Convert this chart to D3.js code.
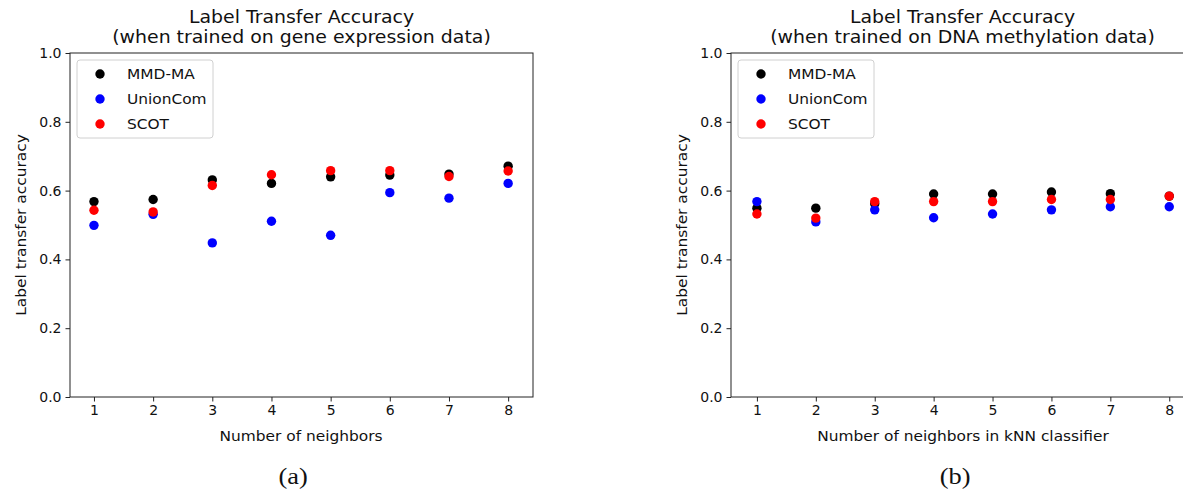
<!DOCTYPE html>
<html>
<head>
<meta charset="utf-8">
<script src="https://cdn.jsdelivr.net/npm/d3@7"></script>
<style>
  body { margin: 0; background: #fff; }
  svg { display: block; }
  text { font-family: "DejaVu Sans", sans-serif; fill: #111; }
</style>
</head>
<body>
<svg id="chart" width="1183" height="491"></svg>
<script>
// k values of the kNN classifier
const neighbors = [1, 2, 3, 4, 5, 6, 7, 8];
const yTicks = [0.0, 0.2, 0.4, 0.6, 0.8, 1.0];
const methods = ["MMD-MA", "UnionCom", "SCOT"];
const methodColors = ["#000000", "#0000ff", "#ff0000"];

// Panel (a): trained on gene expression data
const geneMMDMA    = [0.568, 0.574, 0.631, 0.621, 0.640, 0.645, 0.648, 0.671];
const geneUnionCom = [0.499, 0.531, 0.448, 0.511, 0.470, 0.594, 0.578, 0.621];
const geneSCOT     = [0.543, 0.538, 0.615, 0.646, 0.658, 0.658, 0.641, 0.657];

// Panel (b): trained on DNA methylation data
const methMMDMA    = [0.549, 0.549, 0.562, 0.590, 0.590, 0.596, 0.591, 0.584];
const methUnionCom = [0.568, 0.509, 0.544, 0.521, 0.532, 0.544, 0.553, 0.553];
const methSCOT     = [0.532, 0.520, 0.568, 0.568, 0.568, 0.574, 0.574, 0.584];

const panels = [
  {
    title: ["Label Transfer Accuracy", "(when trained on gene expression data)"],
    xLabel: "Number of neighbors",
    caption: "(a)",
    series: [geneMMDMA, geneUnionCom, geneSCOT],
    left: 70, right: 533, xDomain: [0.595, 8.42]
  },
  {
    title: ["Label Transfer Accuracy", "(when trained on DNA methylation data)"],
    xLabel: "Number of neighbors in kNN classifier",
    caption: "(b)",
    series: [methMMDMA, methUnionCom, methSCOT],
    left: 731, right: 1194, xDomain: [0.56, 8.42]
  }
];

const plotTop = 53, plotBottom = 397;
const svg = d3.select("#chart");

// Text placed at (x, y), optionally rotated, and widened along its baseline by k
function label(parent, x, y, str, size, k, opts = {}) {
  const rot = opts.rotate ? ` rotate(${opts.rotate})` : "";
  return parent.append("text")
    .attr("transform", `translate(${x},${y})${rot} scale(${k},1)`)
    .attr("text-anchor", opts.anchor || "middle")
    .style("font-size", size + "px")
    .style("font-family", opts.family || "'DejaVu Sans', sans-serif")
    .text(str);
}

panels.forEach(p => {
  const x = d3.scaleLinear().domain(p.xDomain).range([p.left, p.right]);
  const y = d3.scaleLinear().domain([0, 1]).range([plotBottom, plotTop]);
  const g = svg.append("g");
  const cx = (p.left + p.right) / 2;
  const tickMid = (x(1) + x(8)) / 2;

  // frame
  g.append("rect")
    .attr("x", p.left).attr("y", plotTop)
    .attr("width", p.right - p.left).attr("height", plotBottom - plotTop)
    .attr("fill", "none").attr("stroke", "#222").attr("stroke-width", 1);

  // axes
  const xAxis = d3.axisBottom(x).tickValues(neighbors).tickSize(4.5).tickPadding(4)
    .tickFormat(d3.format("d"));
  const yAxis = d3.axisLeft(y).tickValues(yTicks).tickSize(4.5).tickPadding(4)
    .tickFormat(d3.format(".1f"));

  const gx = g.append("g").attr("transform", `translate(0,${plotBottom})`).call(xAxis);
  const gy = g.append("g").attr("transform", `translate(${p.left},0)`).call(yAxis);
  [gx, gy].forEach(a => {
    a.select(".domain").remove();
    a.selectAll(".tick line").attr("stroke", "#222");
    a.selectAll(".tick text").style("font-family", "'DejaVu Sans', sans-serif")
      .style("font-size", "14px").attr("fill", "#111");
  });

  // points: MMD-MA, then UnionCom, then SCOT on top
  p.series.forEach((vals, si) => {
    g.append("g").selectAll("circle")
      .data(vals)
      .join("circle")
      .attr("cx", (d, i) => x(neighbors[i]))
      .attr("cy", d => y(d))
      .attr("r", 4.7)
      .attr("fill", methodColors[si]);
  });

  // title
  label(g, cx, 23, p.title[0], 17.5, 1.08);
  label(g, cx, 43, p.title[1], 17.5, 1.08);

  // axis labels
  label(g, tickMid, 441, p.xLabel, 14, 1.1);
  label(g, p.left - 44, (plotTop + plotBottom) / 2, "Label transfer accuracy", 14, 1.1,
    { rotate: -90 });

  // legend
  const lx = p.left + 7, ly = 60;
  g.append("rect").attr("x", lx).attr("y", ly).attr("width", 136).attr("height", 78)
    .attr("rx", 3).attr("fill", "#fff").attr("fill-opacity", 0.8)
    .attr("stroke", "#d0d0d0").attr("stroke-width", 1);
  methods.forEach((m, i) => {
    const rowY = ly + 14 + i * 25;
    g.append("circle").attr("cx", lx + 23).attr("cy", rowY).attr("r", 4.7)
      .attr("fill", methodColors[i]);
    label(g, lx + 50, rowY + 5, m, 14, 1.1, { anchor: "start" });
  });

  // caption
  label(g, tickMid - 8, 484, p.caption, 24, 1.1, { family: "'Liberation Serif', serif" });
});
</script>
</body>
</html>
